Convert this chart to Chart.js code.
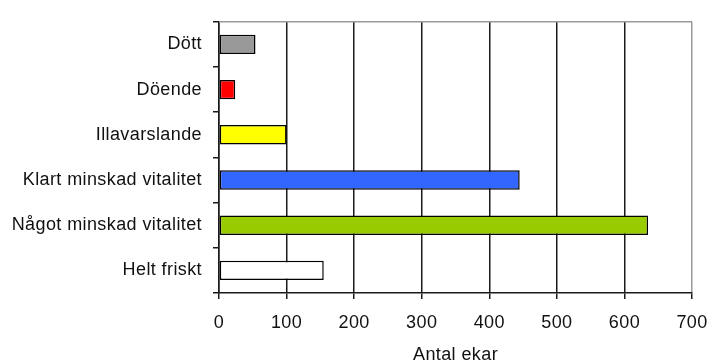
<!DOCTYPE html>
<html>
<head>
<meta charset="utf-8">
<script src="https://cdn.jsdelivr.net/npm/chart.js@4"></script>
<style>
  html, body { margin: 0; padding: 0; background: #ffffff; overflow: hidden; }
  #wrap { width: 709px; height: 372px; position: relative; }
</style>
</head>
<body>
<div id="wrap"><canvas id="chart"></canvas></div>
<script>
// Oak vitality classes and number of trees in each
const categories = ['Dött', 'Döende', 'Illavarslande', 'Klart minskad vitalitet', 'Något minskad vitalitet', 'Helt friskt'];
const counts = [54, 24, 100, 445, 635, 155];
const barColors = ['#999999', '#FF0000', '#FFFF00', '#3366FF', '#99CC00', '#FFFFFF'];
const xMin = 0, xMax = 700, xStep = 100;
const xTitle = 'Antal ekar';

const FONT = { family: '"Liberation Sans", Arial, sans-serif', size: 18 };

// Slightly loosened lettering for all texts
const spacing = {
  id: 'spacing',
  beforeLayout(chart) { chart.ctx.letterSpacing = '0.4px'; },
  beforeDraw(chart) { chart.ctx.letterSpacing = '0.4px'; }
};

// Thin grey frame line along the top of the plot area
const topFrame = {
  id: 'topFrame',
  afterDatasetsDraw(chart) {
    const { ctx, chartArea: a } = chart;
    ctx.save();
    ctx.strokeStyle = '#9a9a9a';
    ctx.lineWidth = 1.5;
    ctx.beginPath();
    ctx.moveTo(a.left, a.top);
    ctx.lineTo(a.right, a.top);
    ctx.stroke();
    ctx.restore();
  }
};

new Chart(document.getElementById('chart'), {
  type: 'bar',
  data: {
    labels: categories,
    datasets: [{
      data: counts,
      backgroundColor: barColors,
      borderColor: '#000000',
      borderWidth: 1.5,
      borderSkipped: false,
      categoryPercentage: 1,
      barPercentage: 0.43
    }]
  },
  options: {
    indexAxis: 'y',
    responsive: true,
    maintainAspectRatio: false,
    animation: false,
    devicePixelRatio: 1,
    layout: { padding: { top: 15, right: 0, left: 0, bottom: 0 } },
    plugins: { legend: { display: false }, tooltip: { enabled: false } },
    scales: {
      x: {
        type: 'linear',
        position: 'bottom',
        min: xMin, max: xMax,
        afterFit(s) { s.height = 79; s.paddingRight = 17; },
        ticks: { stepSize: xStep, color: '#111', font: FONT, padding: 13 },
        grid: {
          color: (c) => c.index === 7 ? '#9a9a9a' : '#1a1a1a',
          tickColor: '#1a1a1a',
          lineWidth: 1.5,
          tickLength: 6
        },
        border: { display: true, color: '#1a1a1a', width: 1.5 },
        title: { display: true, text: xTitle, color: '#111', font: FONT, padding: { top: 0, bottom: 6 } }
      },
      y: {
        type: 'category',
        afterFit(s) { s.width = 219; },
        ticks: { color: '#111', font: FONT, padding: 11 },
        grid: {
          offset: true,
          drawOnChartArea: false,
          drawTicks: true,
          tickLength: 6,
          color: '#1a1a1a',
          lineWidth: 1.5
        },
        border: { display: true, color: '#1a1a1a', width: 1.5 }
      }
    }
  },
  plugins: [spacing, topFrame]
});
</script>
</body>
</html>
